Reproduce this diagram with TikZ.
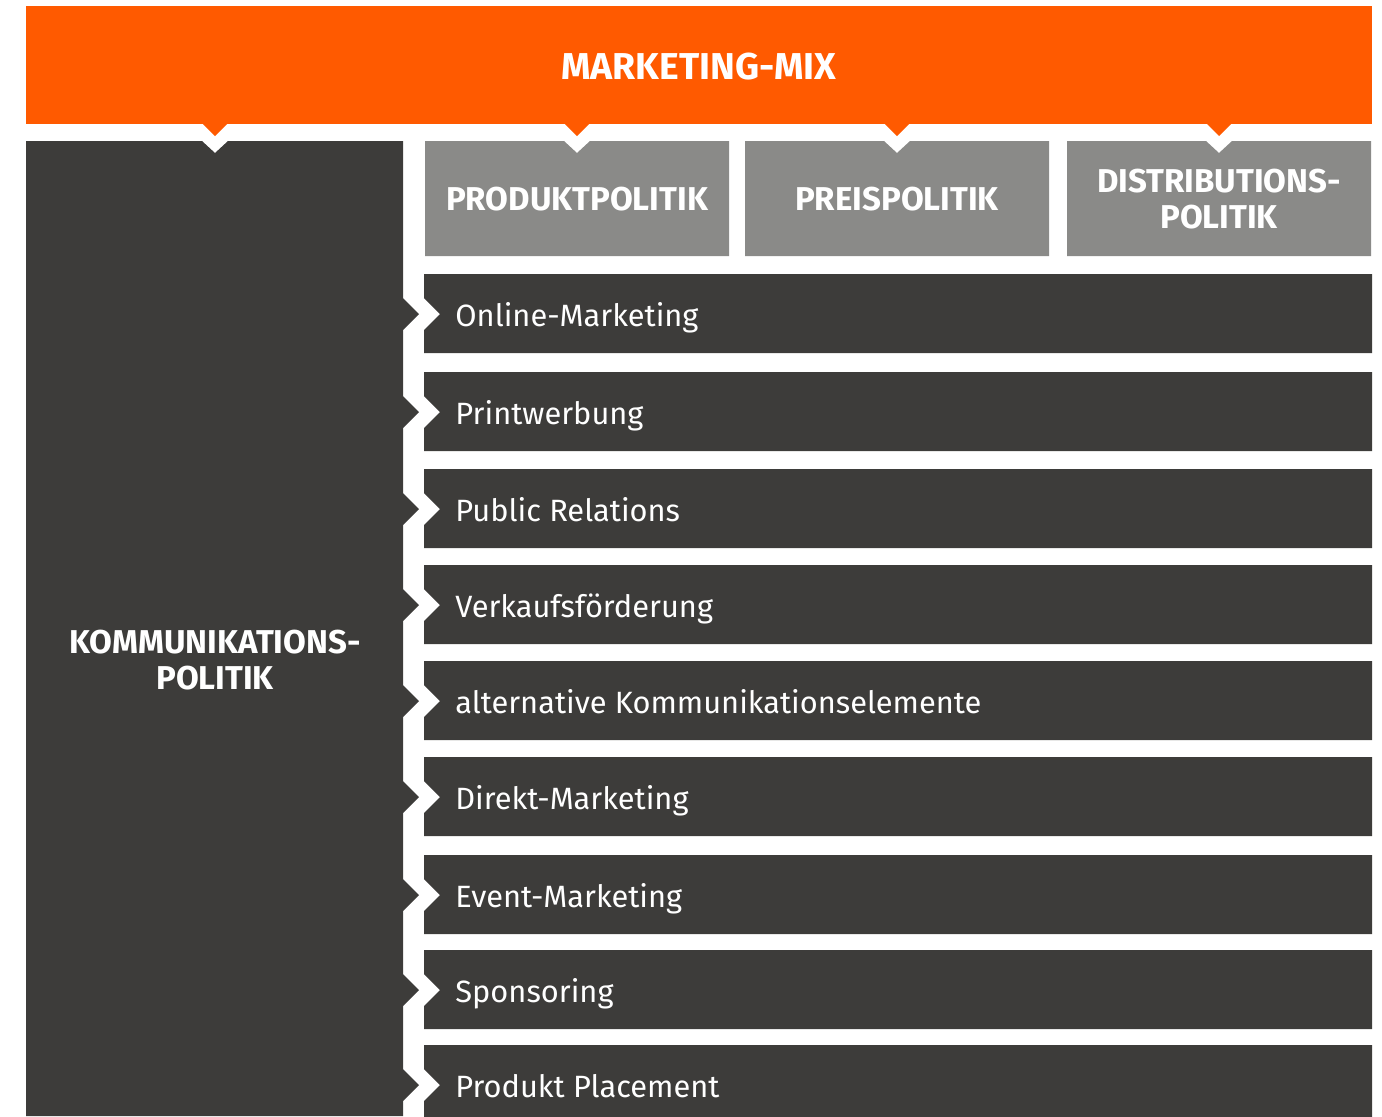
\documentclass[tikz,border=0pt]{standalone}
\usepackage{fontspec}
\setmainfont{Fira Sans}

\definecolor{mixorange}{HTML}{FF5A00}
\definecolor{darkbox}{HTML}{3D3C3A}
\definecolor{graybox}{HTML}{8A8A88}

\tikzset{
  headtext/.style={text=white, font=\bfseries\fontsize{16.5}{18}\selectfont, align=center},
  itemtext/.style={text=white, font=\fontsize{15.4}{18}\selectfont, anchor=base west, inner sep=0pt},
}

\begin{document}
\begin{tikzpicture}[x=0.5pt, y=-0.5pt]
            \clip (0,0) rectangle (1382,1116);

            % Orange bar with its tips
            \fill[mixorange] (26,6) rectangle (1372,124);
            \foreach \c in {215,577,897,1219}
              \fill[mixorange] (\c-12,124) -- (\c,136) -- (\c+12,124) -- cycle;
            \node[headtext, font=\bfseries\fontsize{18.7}{20}\selectfont] (mix) at (699,67) {MARKETING-MIX};

            % Left column, bumps towards the rows
            \fill[darkbox] (26,141) -- (202,141) -- (215,153) -- (228,141) -- (403,141)
              \foreach \yc in {314,412,509,605,701,797,895,990,1085} {
                -- (403,\yc-16) -- (419,\yc) -- (403,\yc+16) }
              -- (403,1116) -- (26,1116) -- cycle;
            \node[headtext] (komm) at (215,660) {KOMMUNIKATIONS-\\POLITIK};

            % Gray boxes
            \foreach \c/\t [count=\i] in {577/PRODUKTPOLITIK, 897/PREISPOLITIK, 1219/{DISTRIBUTIONS-\\POLITIK}} {
              \fill[graybox] (\c-152,141) -- (\c-13,141) -- (\c,153) -- (\c+13,141) -- (\c+152,141)
                -- (\c+152,256) -- (\c-152,256) -- cycle;
              \node[headtext] (pol\i) at (\c,199) {\t};
            }

            % Rows of the communication tools
            \foreach \yt/\t [count=\i] in {274/Online-Marketing, 372/Printwerbung, 469/Public Relations,
                565/Verkaufsförderung, 661/alternative Kommunikationselemente, 757/Direkt-Marketing,
                855/Event-Marketing, 950/Sponsoring, 1045/Produkt Placement} {
              \fill[darkbox] (424,\yt) -- (1372,\yt) -- (1372,\yt+79) -- (424,\yt+79)
                -- (424,\yt+56) -- (440,\yt+40) -- (424,\yt+24) -- cycle;
              \node[itemtext] (row\i) at (455,\yt+52) {\t};
            }
        \end{tikzpicture}
\end{document}
